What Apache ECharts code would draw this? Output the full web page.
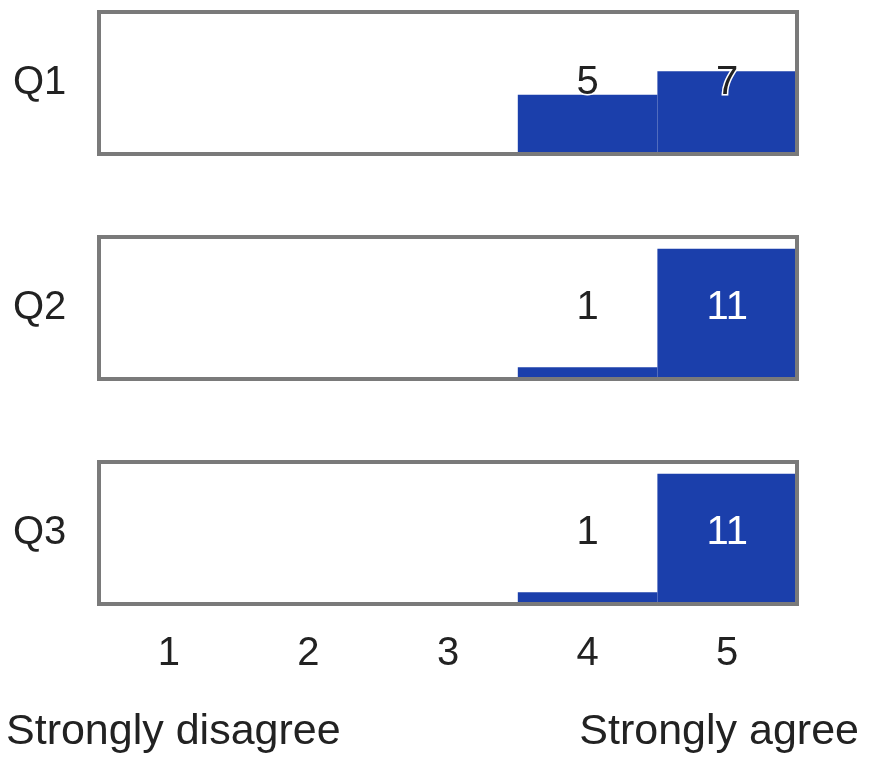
<!DOCTYPE html>
<html>
<head>
<meta charset="utf-8">
<script src="https://cdn.jsdelivr.net/npm/echarts@6/dist/echarts.min.js"></script>
<style>
html,body{margin:0;padding:0;background:#fff;}
#chart{width:869px;height:760px;}
</style>
</head>
<body>
<div id="chart"></div>
<script>
// ---- data ----
const categories = ['1', '2', '3', '4', '5'];
const rowLabels = ['Q1', 'Q2', 'Q3'];
const q1Counts = [0, 0, 0, 5, 7];
const q2Counts = [0, 0, 0, 1, 11];
const q3Counts = [0, 0, 0, 1, 11];
const respondents = 12;
const scaleLeft = 'Strongly disagree';
const scaleRight = 'Strongly agree';

const rows = [q1Counts, q2Counts, q3Counts];

const FONT = 'Liberation Sans';
const FS = 40;
const BLUE = '#1b3fab';
const GRAY = '#7a7a7a';

const gridTops = [12, 237, 462];
const grids = gridTops.map(t => ({
  left: 99, width: 698, top: t, height: 142,
  show: true, borderColor: GRAY, borderWidth: 4,
  backgroundColor: 'transparent', z: 5
}));

const xAxes = rows.map((r, i) => ({
  type: 'category', gridIndex: i, data: categories,
  axisLine: {show: false}, axisTick: {show: false},
  splitLine: {show: false},
  axisLabel: {
    show: i === rows.length - 1, margin: 30,
    fontFamily: FONT, fontSize: FS, color: '#222'
  }
}));

const yAxes = rows.map((r, i) => ({
  type: 'value', gridIndex: i, min: 0, max: respondents,
  axisLine: {show: false}, axisTick: {show: false},
  axisLabel: {show: false}, splitLine: {show: false},
  name: rowLabels[i], nameLocation: 'middle', nameRotate: 0, nameGap: 86,
  nameTextStyle: {fontFamily: FONT, fontSize: FS, color: '#222', align: 'left', verticalAlign: 'middle'}
}));

const series = [];
rows.forEach((counts, i) => {
  series.push({
    type: 'bar', xAxisIndex: i, yAxisIndex: i,
    data: counts, barCategoryGap: '0%',
    itemStyle: {color: BLUE}, z: 2, silent: true
  });
  const labelPts = [];
  counts.forEach((c, k) => {
    const inside = c / respondents > 0.7;
    if (c > 0) labelPts.push({
      value: [k, respondents / 2, c],
      label: inside ? {color: '#ffffff'}
                    : {color: '#222', textBorderColor: '#ffffff', textBorderWidth: 3}
    });
  });
  series.push({
    type: 'scatter', xAxisIndex: i, yAxisIndex: i,
    data: labelPts, symbolSize: 1,
    itemStyle: {color: 'rgba(0,0,0,0)', opacity: 1},
    z: 6, silent: true,
    label: {
      show: true, position: 'inside',
      fontFamily: FONT, fontSize: FS,
      formatter: p => String(p.value[2])
    }
  });
});

const chart = echarts.init(document.getElementById('chart'), null, {renderer: 'canvas'});
chart.setOption({
  animation: false,
  backgroundColor: '#ffffff',
  grid: grids,
  xAxis: xAxes,
  yAxis: yAxes,
  series: series,
  graphic: [
    {type: 'text', left: 6, top: 711,
     style: {text: scaleLeft, font: '43px "' + FONT + '"', fill: '#222'}},
    {type: 'text', right: 10, top: 711,
     style: {text: scaleRight, font: '43px "' + FONT + '"', fill: '#222', textAlign: 'right'}}
  ]
});
</script>
</body>
</html>
